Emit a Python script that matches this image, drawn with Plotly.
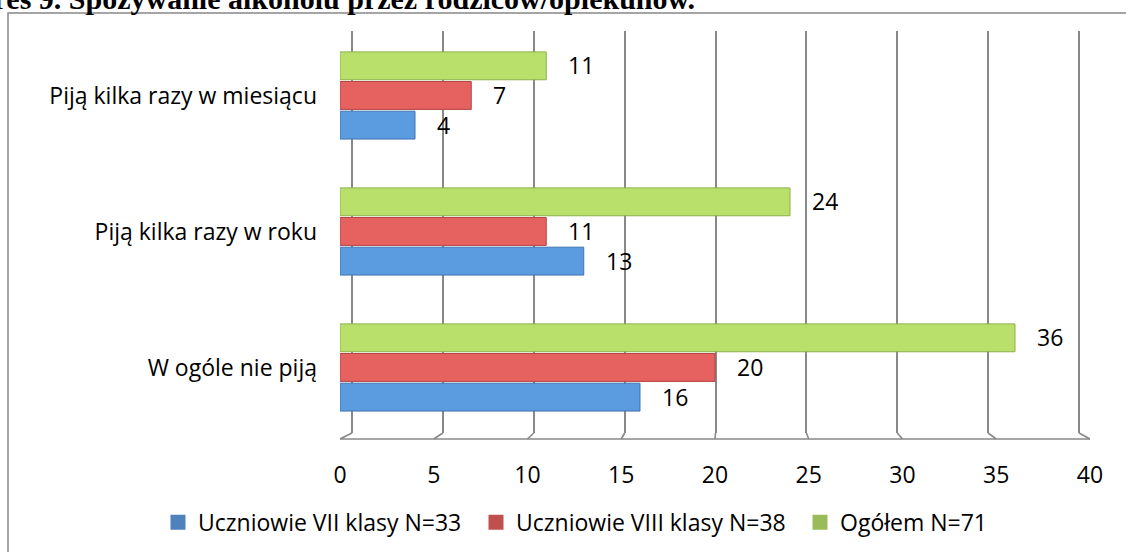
import plotly.graph_objects as go

# --- dane ---
kategorie = ['W ogóle nie piją', 'Piją kilka razy w roku', 'Piją kilka razy w miesiącu']
klasa_7 = [16, 13, 4]
klasa_8 = [20, 11, 7]
ogolem = [36, 24, 11]
serie = ['Uczniowie VII klasy N=33', 'Uczniowie VIII klasy N=38', 'Ogółem N=71']
x_ticks = [0, 5, 10, 15, 20, 25, 30, 35, 40]

kolory_slupkow = ['#5B9BE0', '#E56260', '#B9E06A']
kolory_krawedzi = ['#3F72B2', '#B44644', '#8EB04A']
kolory_legendy = ['#4F81BD', '#C0504D', '#9BBB59']
FONT = 'Open Sans'
FS = 23

fig = go.Figure()

# legenda: każda seria w osobnej legendzie, żeby ustawić je w jednym rzędzie jak w Excelu
legendy = ['legend', 'legend2', 'legend3']
for nazwa, kol, lg in zip(serie, kolory_legendy, legendy):
    fig.add_trace(go.Scatter(x=[None], y=[None], mode='markers', name=nazwa, legend=lg,
                             marker=dict(symbol='square', size=15, color=kol),
                             xaxis='x', yaxis='y'))

# słupki
for nazwa, wart, kol, kraw in zip(serie, [klasa_7, klasa_8, ogolem], kolory_slupkow, kolory_krawedzi):
    fig.add_trace(go.Bar(y=kategorie, x=wart, orientation='h', name=nazwa, showlegend=False,
                         marker=dict(color=kol, line=dict(color=kraw, width=1)),
                         xaxis='x2', yaxis='y2', hoverinfo='x+y'))

# etykiety wartości
przesun = [-30, 0, 30]
for wart, dy in zip([klasa_7, klasa_8, ogolem], przesun):
    for kat, v in zip(kategorie, wart):
        fig.add_annotation(x=v, y=kat, xref='x2', yref='y2', text=str(v), showarrow=False,
                           xanchor='left', xshift=20, yshift=dy,
                           font=dict(family=FONT, size=FS, color='#000'))

# tylna ściana: siatka przesunięta względem osi przedniej
g0, g1 = -0.66, 40.605
fig.update_layout(
    xaxis=dict(domain=[0, 1], range=[g0, g1], tick0=0, dtick=5, showgrid=True,
               gridcolor='#888888', gridwidth=1.6, showticklabels=False, zeroline=False,
               showline=False, ticks='', anchor='y', fixedrange=True),
    yaxis=dict(domain=[6 / 408, 1], range=[0, 1], visible=False, anchor='x', fixedrange=True),
    xaxis2=dict(domain=[0, 1], range=[0, 40], tickvals=x_ticks, showgrid=False, zeroline=False,
                showline=False, ticks='', anchor='y2', ticklabelstandoff=20,
                tickfont=dict(family=FONT, size=FS, color='#000'), fixedrange=True),
    yaxis2=dict(domain=[0, 1], categoryorder='array', categoryarray=kategorie,
                range=[-0.526, 2.474], showgrid=False, zeroline=False, showline=False, ticks='',
                anchor='x2', ticklabelstandoff=22,
                tickfont=dict(family=FONT, size=FS, color='#000'), fixedrange=True),
    barmode='group', bargap=0.346, bargroupgap=0.06,
)

# podłoga 3D
fig.add_shape(type='line', xref='x2', yref='paper', x0=x_ticks[0], x1=x_ticks[-1], y0=0, y1=0,
              line=dict(color='#888888', width=1.6))
for t in x_ticks:
    tb = (t - g0) / (g1 - g0) * 40
    fig.add_shape(type='line', xref='x2', yref='paper', x0=tb, x1=t, y0=6 / 408, y1=0,
                  line=dict(color='#888888', width=1.6))

# ramka wykresu
fig.add_shape(type='rect', xref='paper', yref='paper', x0=(8 - 340) / 750, x1=1.08,
              y0=-0.35, y1=(439 - 13) / 408, line=dict(color='#888888', width=1.5),
              layer='below')

# tytuł (ucięty u góry jak w oryginale)
fig.add_annotation(xref='paper', yref='paper', x=(697 - 340) / 750, y=(439 + 1.5) / 408,
                   xanchor='right', yanchor='middle', showarrow=False,
                   text='<b>Wykres 9. Spożywanie alkoholu przez rodziców/opiekunów.</b>',
                   font=dict(family='Liberation Serif', size=30, color='#000'))

leg = dict(orientation='h', xref='container', yref='container', y=0.054,
           xanchor='left', yanchor='middle', font=dict(family=FONT, size=FS, color='#000'),
           itemwidth=30, bgcolor='rgba(0,0,0,0)')
fig.update_layout(
    width=1126, height=552,
    margin=dict(l=340, r=36, t=31, b=113, autoexpand=False),
    paper_bgcolor='white', plot_bgcolor='rgba(0,0,0,0)',
    font=dict(family=FONT, size=FS, color='#000'),
    legend=dict(leg, x=158 / 1126),
    legend2=dict(leg, x=476 / 1126),
    legend3=dict(leg, x=800 / 1126),
)

fig.write_html('out.html', config={'displayModeBar': False},
               post_script="document.body.style.margin='0';")
